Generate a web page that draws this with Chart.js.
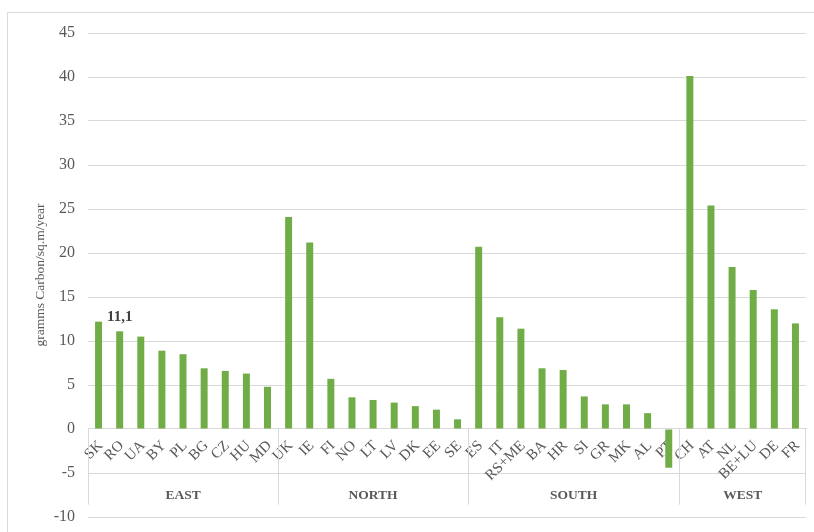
<!DOCTYPE html>
<html>
<head>
<meta charset="utf-8">
<script src="https://cdn.jsdelivr.net/npm/chart.js@4/dist/chart.umd.min.js"></script>
<style>
  html, body { margin: 0; padding: 0; background: #fff; }
  #wrap { width: 814px; height: 532px; position: relative; }
</style>
</head>
<body>
<div id="wrap"><canvas id="grafico"></canvas></div>
<script>
const countries = ['SK','RO','UA','BY','PL','BG','CZ','HU','MD',
  'UK','IE','FI','NO','LT','LV','DK','EE','SE',
  'ES','IT','RS+ME','BA','HR','SI','GR','MK','AL','PT',
  'CH','AT','NL','BE+LU','DE','FR']
const carbon = [12.2, 11.1, 10.5, 8.9, 8.5, 6.9, 6.6, 6.3, 4.8,
  24.1, 21.2, 5.7, 3.6, 3.3, 3.0, 2.6, 2.2, 1.1,
  20.7, 12.7, 11.4, 6.9, 6.7, 3.7, 2.8, 2.8, 1.8, -4.4,
  40.1, 25.4, 18.4, 15.8, 13.6, 12.0]
const regions = ['EAST', 'NORTH', 'SOUTH', 'WEST']
const regionSizes = [9, 9, 10, 6]
const yTicks = [-10, -5, 0, 5, 10, 15, 20, 25, 30, 35, 40, 45]
const labelled = {RO: '11,1'}

const grey = '#595959'
const line = '#d9d9d9'
const serif = 'Liberation Serif'

// cadre + groupes de l'axe
const extras = {
  id: 'extras',
  beforeDraw(chart) {
    const c = chart.ctx
    c.save()
    c.strokeStyle = line
    c.lineWidth = 1
    c.strokeRect(7.5, 12.5, 820, 540)
    c.restore()
  },
  afterDraw(chart) {
    const c = chart.ctx
    const x = chart.scales.x, y = chart.scales.y
    const top = y.getPixelForValue(0)
    const bottom = y.getPixelForValue(-8.6)
    const textY = y.getPixelForValue(-7.6)
    c.save()
    c.strokeStyle = line
    c.lineWidth = 1
    c.fillStyle = grey
    c.font = 'bold 13.5px "' + serif + '"'
    c.textAlign = 'center'
    c.textBaseline = 'middle'
    let start = 0
    let left = chart.chartArea.left
    regions.forEach((name, i) => {
      const end = start + regionSizes[i]
      const right = end < countries.length
        ? (x.getPixelForValue(end - 1) + x.getPixelForValue(end)) / 2
        : chart.chartArea.right
      c.beginPath()
      c.moveTo(Math.round(left) + 0.5, top)
      c.lineTo(Math.round(left) + 0.5, bottom)
      c.stroke()
      c.fillText(name, (left + right) / 2, textY)
      if (end === countries.length) {
        c.beginPath()
        c.moveTo(Math.round(right) - 0.5, top)
        c.lineTo(Math.round(right) - 0.5, bottom)
        c.stroke()
      }
      left = right
      start = end
    })
    // étiquette de valeur
    c.font = 'bold 15px "' + serif + '"'
    c.fillStyle = '#404040'
    c.textBaseline = 'bottom'
    const meta = chart.getDatasetMeta(0)
    countries.forEach((k, i) => {
      if (labelled[k]) {
        const bar = meta.data[i]
        c.fillText(labelled[k], bar.x, bar.y - 7)
      }
    })
    c.restore()
  }
}

const ctx = document.getElementById('grafico')

const data = {
  labels: countries,
  datasets: [{
    data: carbon,
    backgroundColor: '#70ad47',
    categoryPercentage: 1,
    barPercentage: 0.33
  }]
}

const config = {
  type: 'bar',
  data,
  plugins: [extras],
  options: {
    responsive: true,
    maintainAspectRatio: false,
    animation: false,
    layout: { padding: { left: 28, top: 33, right: 8, bottom: 15 } },
    plugins: { legend: { display: false }, tooltip: { enabled: false } },
    scales: {
      x: {
        position: { y: 0 },
        grid: { display: false, drawTicks: false },
        border: { display: true, color: line },
        ticks: {
          autoSkip: false,
          minRotation: 45,
          maxRotation: 45,
          padding: 8,
          labelOffset: 2,
          color: grey,
          font: { family: serif, size: 15 }
        },
        afterFit(scale) { scale.paddingLeft = 0; scale.paddingRight = 0 }
      },
      y: {
        min: -10,
        max: 45,
        afterBuildTicks(scale) { scale.ticks = yTicks.map(v => ({ value: v })) },
        grid: { color: line, drawTicks: true, tickLength: 10, tickColor: 'rgba(0,0,0,0)' },
        border: { display: false },
        ticks: {
          padding: 3,
          color: grey,
          font: { family: serif, size: 16 }
        },
        title: {
          display: true,
          text: 'gramms Carbon/sq.m/year',
          color: grey,
          font: { family: serif, size: 13.5 },
          padding: 4
        },
        afterFit(scale) { scale.width = 60 }
      }
    }
  }
}

const graph = new Chart(ctx, config)
</script>
</body>
</html>
